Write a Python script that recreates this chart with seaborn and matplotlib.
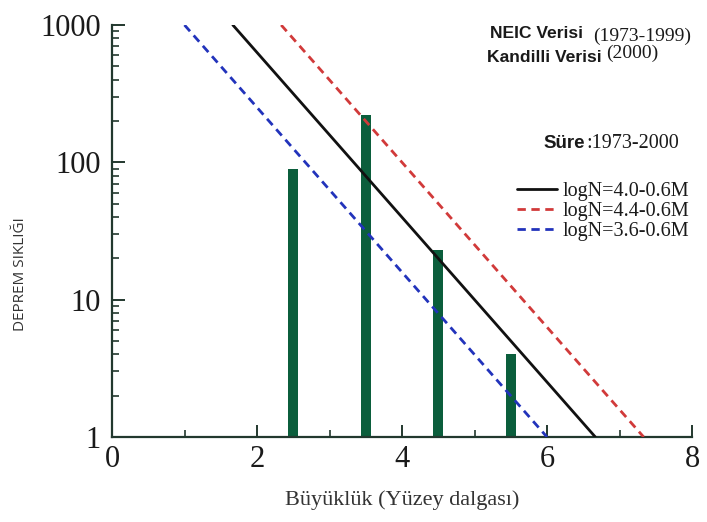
import numpy as np
import pandas as pd
import matplotlib
matplotlib.use("Agg")
import matplotlib.pyplot as plt
import seaborn as sns
from matplotlib.ticker import FixedLocator, LogLocator, NullFormatter, FixedFormatter

# Observed earthquake counts per magnitude bin (surface-wave magnitude)
magnitudes = [2.5, 3.5, 4.5, 5.5]
counts = [90, 220, 23, 4]

# Gutenberg-Richter relations logN = a - b*M
line_labels = ["logN=4.0-0.6M", "logN=4.4-0.6M", "logN=3.6-0.6M"]
intercepts_a = [4.0, 4.4, 3.6]
slopes_b = [0.6, 0.6, 0.6]
line_colors = ["#111111", "#d13a3a", "#2233bb"]
line_dashed = [False, True, True]

x_ticks = [0, 2, 4, 6, 8]
y_ticks = [1, 10, 100, 1000]
y_tick_labels = ["1", "10", "100", "1000"]

sns.set_theme(style="ticks")
plt.rcParams["font.family"] = ["Liberation Serif", "DejaVu Serif"]

W, H = 707, 522
fig = plt.figure(figsize=(W / 100, H / 100), dpi=100)
ax = fig.add_axes([112 / W, 1 - 437 / H, 580 / W, 412 / H])
ax.set_yscale("log")

# Frequency bars
bars = pd.DataFrame({"M": magnitudes, "N": counts})
sns.barplot(data=bars, x="M", y="N", native_scale=True, width=0.14,
            color="#0b5e3c", saturation=1, edgecolor="none", ax=ax, zorder=2)

# Each relation drawn between N=1000 and N=1
for lab, a, b, c, dsh in zip(line_labels, intercepts_a, slopes_b, line_colors, line_dashed):
    logn = np.array([3.0, 0.0])
    m = (a - logn) / b
    df = pd.DataFrame({"M": m, "N": 10 ** logn})
    sns.lineplot(data=df, x="M", y="N", color=c, linewidth=2.0, ax=ax,
                 label=lab, zorder=3)
    if dsh:
        ax.lines[-1].set_dashes([3.0, 2.0])

ax.set_xlim(0, 8)
ax.set_ylim(1, 1000)
spine_col = "#22382e"
for s in ["top", "right"]:
    ax.spines[s].set_visible(False)
for s in ["left", "bottom"]:
    ax.spines[s].set_color(spine_col)
    ax.spines[s].set_linewidth(1.6)

ax.xaxis.set_major_locator(FixedLocator(x_ticks))
ax.xaxis.set_minor_locator(FixedLocator([1, 3, 5, 7]))
ax.set_xticklabels([str(t) for t in x_ticks])
ax.yaxis.set_major_locator(FixedLocator(y_ticks))
ax.yaxis.set_major_formatter(FixedFormatter(y_tick_labels))
ax.yaxis.set_minor_locator(LogLocator(base=10, subs=np.arange(2, 10)))
ax.yaxis.set_minor_formatter(NullFormatter())
ax.tick_params(axis="both", which="major", direction="in", length=9, width=1.4,
               color=spine_col, labelsize=22, labelcolor="#1a1a1a")
ax.tick_params(axis="both", which="minor", direction="in", length=5, width=1.2,
               color=spine_col)
ax.tick_params(axis="x", which="major", pad=6)
ax.tick_params(axis="y", which="major", pad=8)

ax.set_xlabel("Büyüklük (Yüzey dalgası)", fontsize=16, color="#333333")
ax.xaxis.set_label_coords(0.5, (437 - 505) / 412)
ax.xaxis.label.set_va("baseline")

ax.set_ylabel("DEPREM SIKLIĞI", fontsize=11, color="#333333",
              family=["Open Sans", "DejaVu Sans"])
ax.yaxis.set_label_coords((21 - 112) / 580, (437 - 274) / 412)
ax.yaxis.label.set_va("center")

leg = ax.legend(loc="upper left", bbox_to_anchor=((517 - 112) / 580, (437 - 182) / 412),
                frameon=False, fontsize=14.5, handlelength=2.0, handletextpad=0.25,
                labelspacing=0.05, borderpad=0, borderaxespad=0)
for t in leg.get_texts():
    t.set_color("#1a1a1a")

sans = ["Liberation Sans", "DejaVu Sans"]
fig.text(490 / W, 1 - 38 / H, "NEIC Verisi", fontsize=12.6, family=sans,
         weight="bold", color="#1a1a1a", ha="left", va="baseline")
fig.text(593 / W, 1 - 41 / H, "(1973-1999)", fontsize=14, color="#1a1a1a",
         ha="left", va="baseline")
fig.text(487 / W, 1 - 62 / H, "Kandilli Verisi", fontsize=12.6, family=sans,
         weight="bold", color="#1a1a1a", ha="left", va="baseline")
fig.text(606 / W, 1 - 58 / H, "(2000)", fontsize=14, color="#1a1a1a",
         ha="left", va="baseline")
fig.text(543 / W, 1 - 148 / H, "Süre", fontsize=13.5, family=sans, weight="bold",
         color="#1a1a1a", ha="left", va="baseline")
fig.text(586 / W, 1 - 148 / H, ":1973-2000", fontsize=14.5, color="#1a1a1a",
         ha="left", va="baseline")

fig.savefig("out.png", dpi=100)
